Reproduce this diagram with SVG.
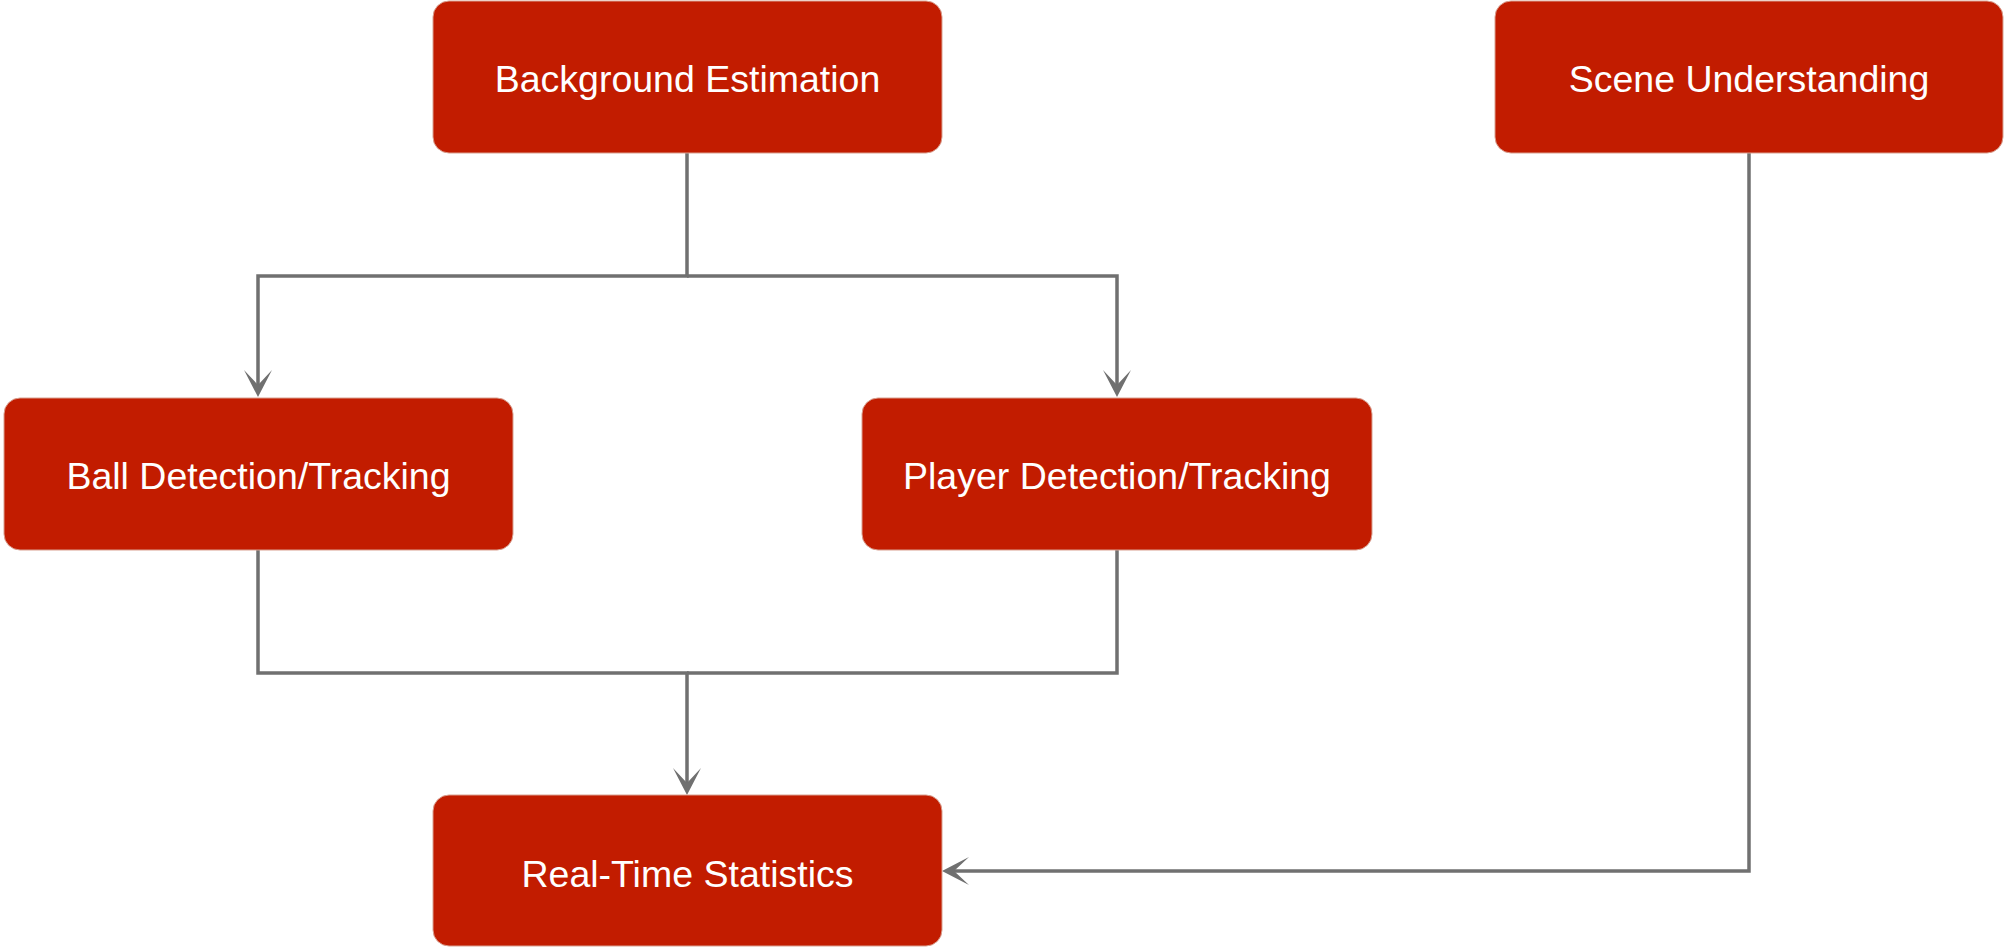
<svg xmlns="http://www.w3.org/2000/svg" width="2005" height="947" viewBox="0 0 2005 947">
<style>
.box{fill:#C21C00;stroke:#d9a090;stroke-width:1}
.lbl{fill:#ffffff;font-family:"Liberation Sans",Arial,sans-serif;font-size:37.5px;text-anchor:middle}
.edge{fill:none;stroke:#707070;stroke-width:3.5}
</style>
<defs>
<marker id="arr" markerUnits="userSpaceOnUse" viewBox="-28 -15 31 30" refX="-12" refY="0" markerWidth="31" markerHeight="30" orient="auto">
<path d="M0,0 L-27,-14 L-12,0 L-27,14 Z" fill="#707070"/>
</marker>
</defs>
<rect width="2005" height="947" fill="#ffffff"/>
<g id="connectors">
<path class="edge" d="M687,153 V276 H258 V385" marker-end="url(#arr)"/>
<path class="edge" d="M687,276 H1117 V385" marker-end="url(#arr)"/>
<path class="edge" d="M258,550 V673 H687 V783" marker-end="url(#arr)"/>
<path class="edge" d="M1117,550 V673 H687"/>
<path class="edge" d="M1749,153 V871 H954" marker-end="url(#arr)"/>
</g>
<g id="background-estimation">
<rect class="box" x="433" y="1" width="509" height="152" rx="16"/>
<text class="lbl" x="687.5" y="91.5">Background Estimation</text>
</g>
<g id="scene-understanding">
<rect class="box" x="1495" y="1" width="508" height="152" rx="16"/>
<text class="lbl" x="1749" y="91.5">Scene Understanding</text>
</g>
<g id="ball-detection">
<rect class="box" x="4" y="398" width="509" height="152" rx="16"/>
<text class="lbl" x="258.5" y="488.5">Ball Detection/Tracking</text>
</g>
<g id="player-detection">
<rect class="box" x="862" y="398" width="510" height="152" rx="16"/>
<text class="lbl" x="1117" y="488.5">Player Detection/Tracking</text>
</g>
<g id="real-time-statistics">
<rect class="box" x="433" y="795" width="509" height="151" rx="16"/>
<text class="lbl" x="687.5" y="886.5">Real-Time Statistics</text>
</g>
</svg>
